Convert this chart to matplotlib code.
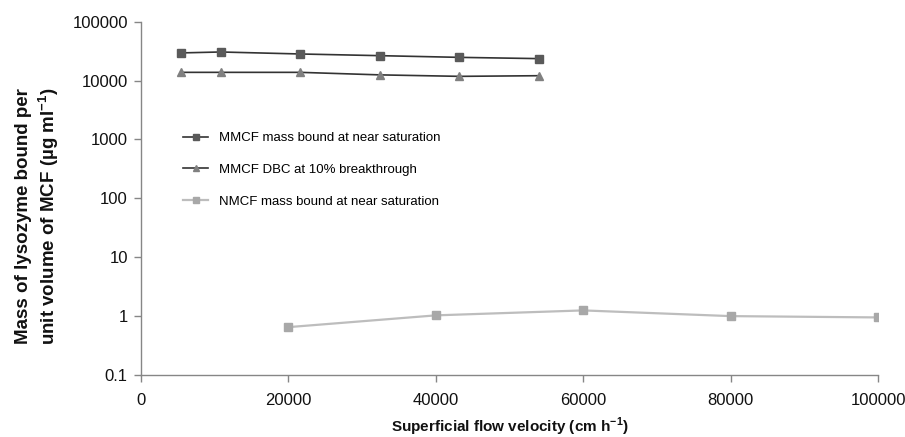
import matplotlib
matplotlib.use("Agg")
import matplotlib.pyplot as plt

plt.rcParams['font.family'] = ['Liberation Sans', 'DejaVu Sans']
plt.rcParams['mathtext.fontset'] = 'custom'
plt.rcParams['mathtext.rm'] = 'Liberation Sans'
plt.rcParams['mathtext.bf'] = 'Liberation Sans:bold'

# Data
mmcf_x = [5400, 10800, 21600, 32400, 43200, 54000]
mmcf_sat = [29500, 30600, 28300, 26500, 24800, 23600]
mmcf_dbc = [13800, 13800, 13800, 12500, 11800, 12100]
nmcf_x = [20000, 40000, 60000, 80000, 100000]
nmcf_sat = [0.65, 1.03, 1.25, 1.0, 0.95]

labels = ["MMCF mass bound at near saturation",
          "MMCF DBC at 10% breakthrough",
          "NMCF mass bound at near saturation"]
xticks = [0, 20000, 40000, 60000, 80000, 100000]
yticks = [0.1, 1, 10, 100, 1000, 10000, 100000]
ytick_labels = ["0.1", "1", "10", "100", "1000", "10000", "100000"]

W, H = 905, 437
fig = plt.figure(figsize=(W / 100, H / 100), dpi=100)
left, right, top, bottom = 141, 878, 21.7, 375
ax = fig.add_axes([left / W, 1 - bottom / H, (right - left) / W, (bottom - top) / H])

l1, = ax.plot(mmcf_x, mmcf_sat, color='#333333', lw=1.2, marker='s', ms=5.6,
              mfc='#5a5a5a', mec='#5a5a5a', label=labels[0])
l2, = ax.plot(mmcf_x, mmcf_dbc, color='#333333', lw=1.2, marker='^', ms=6,
              mfc='#808080', mec='#808080', label=labels[1])
l3, = ax.plot(nmcf_x, nmcf_sat, color='#bdbdbd', lw=1.6, marker='s', ms=5.6,
              mfc='#a8a8a8', mec='#a8a8a8', label=labels[2])

ax.set_yscale('log')
ax.set_ylim(0.1, 100000)
ax.set_xlim(0, 100000)
ax.set_yticks(yticks)
ax.set_yticklabels(ytick_labels)
ax.yaxis.set_minor_locator(matplotlib.ticker.NullLocator())
ax.set_xticks(xticks)
ax.set_xticklabels([str(v) for v in xticks])

for s in ['top', 'right']:
    ax.spines[s].set_visible(False)
for s in ['left', 'bottom']:
    ax.spines[s].set_color('#868686')
    ax.spines[s].set_linewidth(1.0)
ax.tick_params(axis='both', direction='out', length=5, width=1.0, color='#868686',
               labelsize=12, labelcolor='#111111')
ax.tick_params(axis='y', pad=4.5)
ax.tick_params(axis='x', pad=8)

fig.text(509.5 / W, 1 - 432 / H, "Superficial flow velocity (cm h$^{\\mathbf{-1}}$)",
         ha='center', va='baseline', fontsize=11, fontweight='bold', color='#111111')
fig.text(38 / W, 1 - 216 / H, "Mass of lysozyme bound per\nunit volume of MCF (µg ml$^{\\mathbf{-1}}$)",
         rotation=90, ha='center', va='center', fontsize=13.5, fontweight='bold',
         linespacing=1.22, color='#111111')

leg = ax.legend(handles=[l1, l2, l3], loc='upper left',
                bbox_to_anchor=(183 / W, 1 - 132 / H), bbox_transform=fig.transFigure,
                frameon=False, fontsize=9.5, handlelength=1.9, handletextpad=0.85,
                labelspacing=1.48, borderpad=0, borderaxespad=0, markerscale=0.8)

fig.savefig("out.png", dpi=100)
